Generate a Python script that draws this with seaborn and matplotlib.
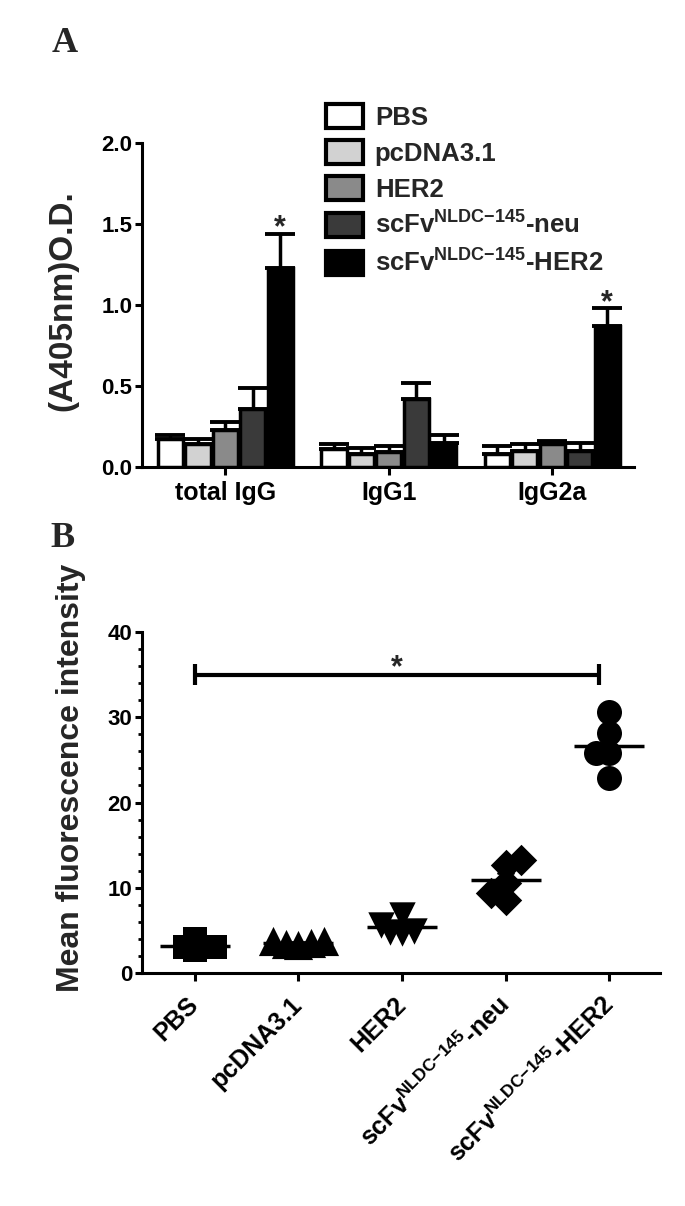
import matplotlib
matplotlib.use('Agg')
import matplotlib.pyplot as plt
from matplotlib.patches import Patch
from matplotlib.ticker import MultipleLocator
import seaborn as sns
import pandas as pd
import numpy as np

# Panel A: antibody isotypes (ELISA O.D.), mean and SEM per group
isotypes = ['total IgG', 'IgG1', 'IgG2a']
groups = ['PBS', 'pcDNA3.1', 'HER2',
          'scFv$^{NLDC{-}145}$-neu', 'scFv$^{NLDC{-}145}$-HER2']

pbs_od = [0.17, 0.11, 0.08]
pcdna_od = [0.14, 0.08, 0.10]
her2_od = [0.23, 0.09, 0.14]
neu_od = [0.36, 0.42, 0.10]
scfv_her2_od = [1.23, 0.15, 0.87]

pbs_err = [0.03, 0.03, 0.05]
pcdna_err = [0.03, 0.04, 0.04]
her2_err = [0.05, 0.04, 0.02]
neu_err = [0.13, 0.10, 0.05]
scfv_her2_err = [0.21, 0.05, 0.11]

star_isotypes = ['total IgG', 'IgG2a']

# Panel B: mean fluorescence intensity, one value per mouse
mfi_pbs = [4.0, 3.1, 3.1, 2.7, 3.0]
mfi_pcdna = [3.7, 3.7, 3.5, 3.4, 3.3]
mfi_her2 = [6.8, 5.6, 4.9, 4.7, 4.8]
mfi_neu = [13.2, 12.7, 10.5, 9.4, 8.6]
mfi_scfv_her2 = [30.6, 28.1, 25.8, 25.8, 22.9]

bar_colors = ['#ffffff', '#d2d2d2', '#8a8a8a', '#3a3a3a', '#000000']
markers = ['s', '^', 'v', 'D', 'o']
marker_sizes = [17, 21, 19, 16, 18]
layout_scale = [0.42, 0.42, 0.42, 0.7, 0.5]   # marker size used only for the swarm layout

sns.set_style('ticks')
plt.rcParams['font.family'] = ['Liberation Sans', 'DejaVu Sans']
plt.rcParams['font.weight'] = 'bold'
plt.rcParams['axes.labelweight'] = 'bold'
plt.rcParams['mathtext.default'] = 'regular'

W, H = 685, 1206
fig = plt.figure(figsize=(W / 100, H / 100), dpi=100)


def style_axes(ax):
    sns.despine(ax=ax)
    for s in ['left', 'bottom']:
        ax.spines[s].set_linewidth(2.2)
        ax.spines[s].set_color('black')
    ax.tick_params(axis='both', which='major', width=2.2, length=5, color='black', labelcolor='black')
    ax.tick_params(axis='y', which='minor', width=2.0, length=3, color='black')


# ---------------- Panel A ----------------
od_lists = [pbs_od, pcdna_od, her2_od, neu_od, scfv_her2_od]
err_lists = [pbs_err, pcdna_err, her2_err, neu_err, scfv_her2_err]
df_od = pd.DataFrame({
    'isotype': isotypes * len(groups),
    'group': np.repeat(groups, len(isotypes)),
    'od': np.concatenate(od_lists),
})

ax1 = fig.add_axes([142 / W, 1 - 467 / H, (634 - 142) / W, (467 - 143) / H])
sns.barplot(data=df_od, x='isotype', y='od', hue='group', order=isotypes, hue_order=groups,
            palette=bar_colors, edgecolor='black', linewidth=2.5, errorbar=None,
            width=0.84, gap=0.08, legend=False, ax=ax1, zorder=3)
bar_conts = list(ax1.containers)

for cont, errs in zip(bar_conts, err_lists):
    for bar, e in zip(cont, errs):
        x = bar.get_x() + bar.get_width() / 2
        h = bar.get_height()
        ax1.errorbar(x, h, yerr=[[0], [e]], fmt='none', ecolor='black',
                     elinewidth=2.5, capsize=11, capthick=2.8, zorder=2)

# asterisks above the scFv-HER2 bars
last = bar_conts[-1]
for iso in star_isotypes:
    i = isotypes.index(iso)
    bar = last[i]
    top = bar.get_height() + scfv_her2_err[i]
    ax1.text(bar.get_x() + bar.get_width() / 2, top - 0.06, '*', ha='center', va='bottom',
             fontsize=22, fontweight='bold')

ax1.set_ylim(0, 2.0)
ax1.set_yticks([0, 0.5, 1.0, 1.5, 2.0])
ax1.set_yticklabels(['0.0', '0.5', '1.0', '1.5', '2.0'])
ax1.set_xlim(-0.51, 2.5)
ax1.set_xlabel('')
ax1.set_ylabel('(A405nm)O.D.', fontsize=24, fontweight='bold')
ax1.yaxis.set_label_coords(-0.13, 0.515)
style_axes(ax1)
ax1.tick_params(axis='y', labelsize=16, pad=2)
ax1.tick_params(axis='x', labelsize=18, pad=4, length=6)

handles = [Patch(facecolor=c, edgecolor='black', linewidth=3, joinstyle='round') for c in bar_colors]
ax1.legend(handles, groups, loc='upper left', bbox_to_anchor=(326 / W, 1 - 104 / H),
           bbox_transform=fig.transFigure, frameon=False, fontsize=18.5,
           handlelength=1.45, handleheight=1.05, handletextpad=0.45, labelspacing=0.4,
           borderpad=0, borderaxespad=0)

# ---------------- Panel B ----------------
mfi_lists = [mfi_pbs, mfi_pcdna, mfi_her2, mfi_neu, mfi_scfv_her2]
df_mfi = pd.DataFrame({
    'group': np.repeat(groups, [len(v) for v in mfi_lists]),
    'mfi': np.concatenate(mfi_lists),
})

ax2 = fig.add_axes([142 / W, 1 - 973 / H, (660 - 142) / W, (973 - 632) / H])
swarms = []
for g, vals, m, s, k in zip(groups, mfi_lists, markers, marker_sizes, layout_scale):
    # lay the swarm out with small markers so the big ones overlap like the original
    before = list(ax2.collections)
    sns.swarmplot(x=[g] * len(vals), y=vals, order=groups, marker=m, size=s * k,
                  color='black', linewidth=0, warn_thresh=1.0, ax=ax2)
    for c in ax2.collections:
        if c not in before:
            swarms.append((c, s))

sns.pointplot(data=df_mfi, x='group', y='mfi', order=groups, errorbar='se', capsize=0.15,
              color='black', marker='_', markersize=50, markeredgewidth=2.5, linestyle='none',
              err_kws={'linewidth': 2}, ax=ax2)

# significance bracket PBS vs scFv-HER2
i0, i1 = 0, len(groups) - 1.1
ax2.plot([i0, i1], [35, 35], color='black', lw=3, solid_capstyle='butt')
ax2.vlines([i0, i1], 33.8, 36.2, color='black', lw=3)
ax2.text((i0 + i1) / 2, 34.0, '*', ha='center', va='bottom', fontsize=22, fontweight='bold')

ax2.set_ylim(0, 40)
ax2.set_yticks([0, 10, 20, 30, 40])
ax2.yaxis.set_minor_locator(MultipleLocator(2))
ax2.set_xlim(-0.51, 4.49)
ax2.set_xlabel('')
ax2.set_ylabel('Mean fluorescence intensity', fontsize=23, fontweight='bold')
ax2.yaxis.set_label_coords(-0.108, 0.572)
style_axes(ax2)
ax2.tick_params(axis='y', labelsize=16, pad=2)
ax2.tick_params(axis='x', labelsize=18, pad=14, length=6)
for lab in ax2.get_xticklabels():
    lab.set_rotation(45)
    lab.set_ha('right')
    lab.set_va('center')
    lab.set_rotation_mode('anchor')

# panel letters
fig.text(65 / W, 1 - 43 / H, 'A', ha='center', va='center', fontsize=26, fontweight='bold',
         family=['Liberation Serif', 'DejaVu Serif'])
fig.text(62 / W, 1 - 538 / H, 'B', ha='center', va='center', fontsize=26, fontweight='bold',
         family=['Liberation Serif', 'DejaVu Serif'])

# freeze the swarm layout, then enlarge the markers
fig.canvas.draw()
for coll, s in swarms:
    if 'draw' in coll.__dict__:
        del coll.draw
    coll.set_sizes([s ** 2])

fig.savefig('out.png', dpi=100)
